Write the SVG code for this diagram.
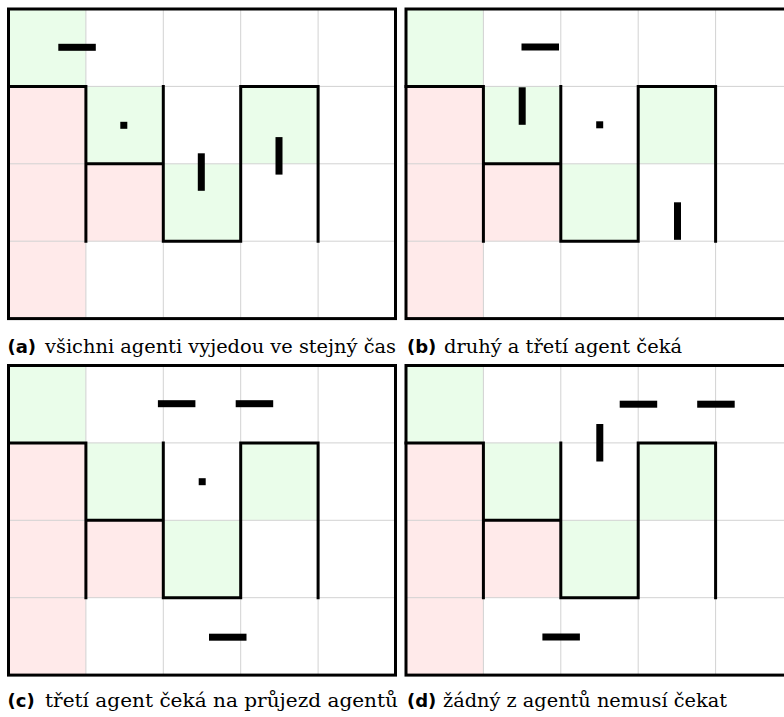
<svg xmlns="http://www.w3.org/2000/svg" xmlns:xlink="http://www.w3.org/1999/xlink" width="784" height="717" viewBox="0 0 784 717">
<style>
.g{fill:#eafdea}
.r{fill:#ffeaea}
.grid{stroke:#d2d2d2;stroke-width:1;fill:none}
.wall{stroke:#000;stroke-width:3;fill:none;stroke-linecap:square;stroke-linejoin:miter}
.frame{stroke:#000;stroke-width:3;fill:none}
.agent{fill:#000}
.lab{font-family:'DejaVu Sans',sans-serif;font-weight:bold;font-size:18px}
.cap{font-family:'DejaVu Serif','Liberation Serif',serif;font-size:18px}
</style>
<defs>
<g id="board">
<rect x="0" y="0" width="387" height="309.6" fill="#fff"/>
<rect class="g" x="0" y="0" width="77.4" height="77.4"/>
<rect class="g" x="77.4" y="77.4" width="77.4" height="77.4"/>
<rect class="g" x="154.8" y="154.8" width="77.4" height="77.4"/>
<rect class="g" x="232.2" y="77.4" width="77.4" height="77.4"/>
<rect class="r" x="0" y="77.4" width="77.4" height="232.2"/>
<rect class="r" x="77.4" y="154.8" width="77.4" height="77.4"/>
<path class="grid" d="M77.4,0V309.6M154.8,0V309.6M232.2,0V309.6M309.6,0V309.6M0,77.4H387M0,154.8H387M0,232.2H387"/>
<path class="wall" d="M0,77.4H77.4V232.2M77.4,154.8H154.8M154.8,77.4V232.2H232.2V77.4H309.6V232.2"/>
<rect class="frame" x="0" y="0" width="387" height="309.6"/>
</g>
</defs>
<rect width="784" height="717" fill="#fff"/>
<g id="panel-a">
<use xlink:href="#board" href="#board" transform="translate(8.5,9)"/>
<rect class="agent" x="58.3" y="43.8" width="37.5" height="7"/>
<rect class="agent" x="120.3" y="121.8" width="7" height="7"/>
<rect class="agent" x="197.8" y="153.3" width="7" height="37.5"/>
<rect class="agent" x="275.5" y="137.1" width="7" height="37.5"/>
<text class="lab" x="7.5" y="352.5">(a)</text>
<text class="cap" x="45" y="352.5" textLength="351" lengthAdjust="spacingAndGlyphs">všichni agenti vyjedou ve stejný čas</text>
</g>
<g id="panel-b">
<use xlink:href="#board" href="#board" transform="translate(406,9)"/>
<rect class="agent" x="521.5" y="43.5" width="37.5" height="7"/>
<rect class="agent" x="518.7" y="87.3" width="7" height="37.5"/>
<rect class="agent" x="596.2" y="121.3" width="7" height="7"/>
<rect class="agent" x="674" y="202.3" width="7" height="37.5"/>
<text class="lab" x="407" y="352.5">(b)</text>
<text class="cap" x="444" y="352.5" textLength="238" lengthAdjust="spacingAndGlyphs">druhý a třetí agent čeká</text>
</g>
<g id="panel-c">
<use xlink:href="#board" href="#board" transform="translate(8.5,365.5)"/>
<rect class="agent" x="157.9" y="400.2" width="37.5" height="7"/>
<rect class="agent" x="235.7" y="400.2" width="37.5" height="7"/>
<rect class="agent" x="198.7" y="478.2" width="7" height="7"/>
<rect class="agent" x="209" y="633.7" width="37.5" height="7"/>
<text class="lab" x="7.5" y="707">(c)</text>
<text class="cap" x="45" y="707" textLength="353" lengthAdjust="spacingAndGlyphs">třetí agent čeká na průjezd agentů</text>
</g>
<g id="panel-d">
<use xlink:href="#board" href="#board" transform="translate(406,365.5)"/>
<rect class="agent" x="619.7" y="400.7" width="37.5" height="7"/>
<rect class="agent" x="697.2" y="400.7" width="37.5" height="7"/>
<rect class="agent" x="596.3" y="424" width="7" height="37.5"/>
<rect class="agent" x="542.4" y="633.5" width="37.5" height="7"/>
<text class="lab" x="407" y="707">(d)</text>
<text class="cap" x="443" y="707" textLength="284" lengthAdjust="spacingAndGlyphs">žádný z agentů nemusí čekat</text>
</g>
<g id="connectors"/>
</svg>
